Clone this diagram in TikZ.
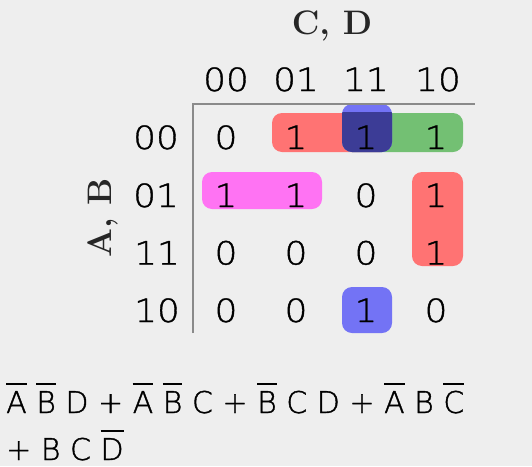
\documentclass[tikz,border=0pt]{standalone}
\usepackage{fontspec}
\IfFontExistsTF{DejaVu Sans ExtraLight}{%
  \newfontfamily\digf[FakeBold=1.2,FakeStretch=1.12]{DejaVu Sans ExtraLight}%
  \newfontfamily\eqf[FakeBold=1.2]{DejaVu Sans ExtraLight}}{%
  \newfontfamily\digf[FakeStretch=1.12]{DejaVu Sans}%
  \newfontfamily\eqf{DejaVu Sans}}
\definecolor{bg}{HTML}{EEEEEE}
\definecolor{redg}{HTML}{FF7373}
\definecolor{greeng}{HTML}{73C073}
\definecolor{blueg}{HTML}{7373F5}
\definecolor{darkg}{HTML}{3C3C96}
\definecolor{magg}{HTML}{FF73F3}
\definecolor{linec}{HTML}{8A8A8A}
\newcommand\nb[1]{\leavevmode\vbox{\hrule height 2pt\kern 6pt\hbox{#1}}}
\begin{document}
\begin{tikzpicture}[x=1pt,y=-1pt,
  dig/.style={font=\digf\fontsize{32}{32}\selectfont, text=black, inner sep=0pt, anchor=base},
  eqn/.style={font=\eqf\fontsize{30}{30}\selectfont, text=black, inner sep=0pt, anchor=base west},
  ttl/.style={font=\fontsize{34}{34}\selectfont\bfseries, text=black!85, inner sep=0pt, anchor=base},
  grp/.style={rounded corners=10pt},
  frame/.style={draw=linec, line width=2pt}]
\useasboundingbox[fill=bg] (0,0) rectangle (532,466);
% groups
\fill[redg, grp] (272,113) rectangle (390,152);
\fill[greeng, grp] (342,113) rectangle (463,152);
\fill[blueg, grp] (342,104) rectangle (392,152);
\begin{scope}
  \clip[grp] (342,104) rectangle (392,152);
  \fill[darkg] (330,112) rectangle (400,160);
\end{scope}
\fill[blueg, grp] (342,287) rectangle (392,333);
\fill[magg, grp] (202,172) rectangle (322,209);
\fill[redg, grp] (412,172) rectangle (463,266);
% frame
\draw[frame] (193,333) -- (193,104) -- (475,104);
% titles
\node[ttl] (cd) at (332,34) {C, D};
\node[ttl, rotate=90] (ab) at (111,218) {A, B};
% column headers
\node[dig] (h0) at (226,91) {00};
\node[dig] (h1) at (296,91) {01};
\node[dig] (h2) at (366,91) {11};
\node[dig] (h3) at (438,91) {10};
% row headers
\node[dig] (r0) at (156,149) {00};
\node[dig] (r1) at (156,207) {01};
\node[dig] (r2) at (157,264.5) {11};
\node[dig] (r3) at (157,322) {10};
% cells
\foreach \r/\y/\a/\b/\c/\d in {0/149/0/1/1/1, 1/207/1/1/0/1, 2/264.5/0/0/0/1, 3/322/0/0/1/0}{
  \node[dig] (c\r0) at (226,\y) {\a};
  \node[dig] (c\r1) at (296,\y) {\b};
  \node[dig] (c\r2) at (366,\y) {\c};
  \node[dig] (c\r3) at (436,\y) {\d};
}
% expression
\node[eqn] (e1) at (6,413) {\nb{A} \nb{B} D + \nb{A} \nb{B} C + \nb{B} C D + \nb{A} B \nb{C}};
\node[eqn] (e2) at (6,460) {+ B C \nb{D}};
\end{tikzpicture}
\end{document}
